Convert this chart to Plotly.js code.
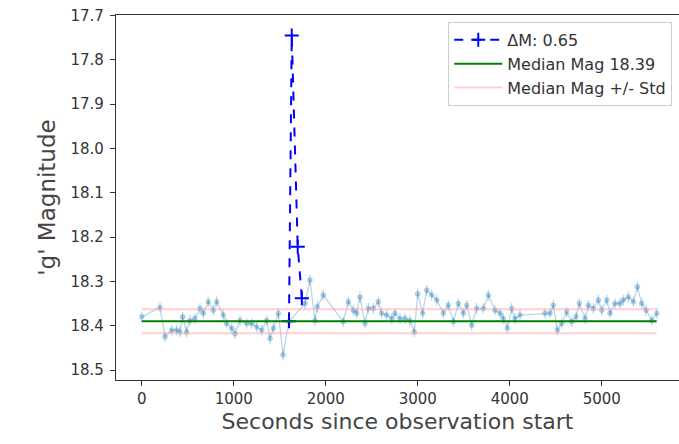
<!DOCTYPE html>
<html>
<head>
<meta charset="utf-8">
<script src="https://cdn.plot.ly/plotly-3.0.1.min.js"></script>
<style>html,body{margin:0;padding:0;background:#fff;}#chart{width:679px;height:444px;}</style>
</head>
<body>
<div id="chart"></div>
<script>
// Light curve (seconds since start, g' magnitude)
const times = [0,198,252,325,379,415,444,487,524,578,633,669,723,778,814,886,922,977,1013,1068,1140,1194,1249,1303,1358,1394,1430,1485,1535,1600,1774,1828,1883,1908,1973,2190,2245,2299,2335,2371,2426,2462,2516,2571,2607,2661,2716,2752,2806,2861,2915,2962,2999,3053,3097,3151,3206,3278,3332,3387,3441,3495,3532,3586,3640,3713,3767,3839,3894,3930,3974,4020,4057,4111,4383,4437,4473,4517,4564,4618,4672,4720,4756,4818,4854,4908,4963,4999,5054,5090,5144,5198,5235,5289,5343,5387,5434,5481,5543,5597];
const mags = [18.380,18.359,18.425,18.410,18.410,18.414,18.380,18.414,18.388,18.384,18.361,18.372,18.346,18.365,18.346,18.376,18.395,18.406,18.418,18.388,18.395,18.395,18.403,18.410,18.388,18.429,18.406,18.372,18.466,18.391,18.350,18.297,18.388,18.357,18.331,18.391,18.346,18.365,18.372,18.335,18.395,18.361,18.361,18.346,18.372,18.376,18.384,18.372,18.384,18.384,18.388,18.414,18.328,18.372,18.320,18.331,18.342,18.372,18.354,18.391,18.350,18.372,18.354,18.399,18.361,18.361,18.331,18.365,18.372,18.384,18.406,18.361,18.384,18.376,18.372,18.372,18.354,18.410,18.395,18.369,18.391,18.380,18.350,18.384,18.354,18.361,18.342,18.365,18.342,18.372,18.350,18.350,18.342,18.335,18.346,18.312,18.350,18.365,18.388,18.372];
const magErr = 0.012;

// Flare points
const flareTimes = [1600, 1630, 1695, 1740];
const flareMags = [18.39, 17.745, 18.222, 18.338];

const medianMag = 18.39;
const stdMag = 0.027;
const deltaM = 0.65;

const tStart = Math.min(...times), tEnd = Math.max(...times);
const font = "DejaVu Sans, sans-serif";

const traces = [
  {x: times, y: mags, type: 'scatter', mode: 'lines+markers',
   line: {color: 'rgba(31,119,180,0.3)', width: 1.3},
   marker: {color: 'rgba(31,119,180,0.35)', size: 5.5},
   error_y: {type: 'constant', value: magErr, color: 'rgba(31,119,180,0.3)', thickness: 1.3, width: 0},
   showlegend: false, hoverinfo: 'skip'},
  {x: flareTimes, y: flareMags, type: 'scatter', mode: 'lines+markers',
   name: 'ΔM: ' + deltaM.toFixed(2),
   line: {color: '#0000ff', width: 2, dash: 'dash'},
   marker: {symbol: 'cross-thin-open', size: 10, line: {color: '#0000ff', width: 2}}},
  {x: [tStart, tEnd], y: [medianMag, medianMag], type: 'scatter', mode: 'lines',
   name: 'Median Mag ' + medianMag.toFixed(2),
   line: {color: '#008000', width: 2}},
  {x: [tStart, tEnd], y: [medianMag - stdMag, medianMag - stdMag], type: 'scatter', mode: 'lines',
   name: 'Median Mag +/- Std', legendgroup: 'std',
   line: {color: 'rgba(255,160,170,0.5)', width: 2}},
  {x: [tStart, tEnd], y: [medianMag + stdMag, medianMag + stdMag], type: 'scatter', mode: 'lines',
   name: 'Median Mag +/- Std', legendgroup: 'std', showlegend: false,
   line: {color: 'rgba(255,160,170,0.5)', width: 2}}
];

const layout = {
  width: 679, height: 444,
  margin: {l: 116, r: 0, t: 15, b: 64},
  paper_bgcolor: '#fff', plot_bgcolor: '#fff',
  font: {family: font, color: '#333', size: 15},
  showlegend: true,
  legend: {x: 0.988, y: 0.981, xanchor: 'right', yanchor: 'top',
    tracegroupgap: 0, itemwidth: 48,
    bgcolor: 'rgba(255,255,255,0.9)', bordercolor: '#ccc', borderwidth: 1,
    font: {family: font, size: 16, color: '#333'}},
  xaxis: {range: [-280, 5839], tickvals: [0,1000,2000,3000,4000,5000],
    showgrid: false, zeroline: false, showline: true, mirror: true,
    linecolor: '#333', linewidth: 1.2, ticks: 'outside', ticklen: 5, tickcolor: '#333',
    tickfont: {family: font, size: 15, color: '#333'},
    title: {text: 'Seconds since observation start', font: {family: font, size: 22, color: '#444'}, standoff: 6}},
  yaxis: {range: [18.5225, 17.699], tickvals: [17.7,17.8,17.9,18.0,18.1,18.2,18.3,18.4,18.5],
    tickformat: '.1f', ticklabelstandoff: 3,
    showgrid: false, zeroline: false, showline: true, mirror: true,
    linecolor: '#333', linewidth: 1.2, ticks: 'outside', ticklen: 5, tickcolor: '#333',
    tickfont: {family: font, size: 15, color: '#333'},
    title: {text: "'g' Magnitude", font: {family: font, size: 23, color: '#444'}, standoff: 8}}
};

Plotly.newPlot('chart', traces, layout, {displayModeBar: false, staticPlot: true});
</script>
</body>
</html>
